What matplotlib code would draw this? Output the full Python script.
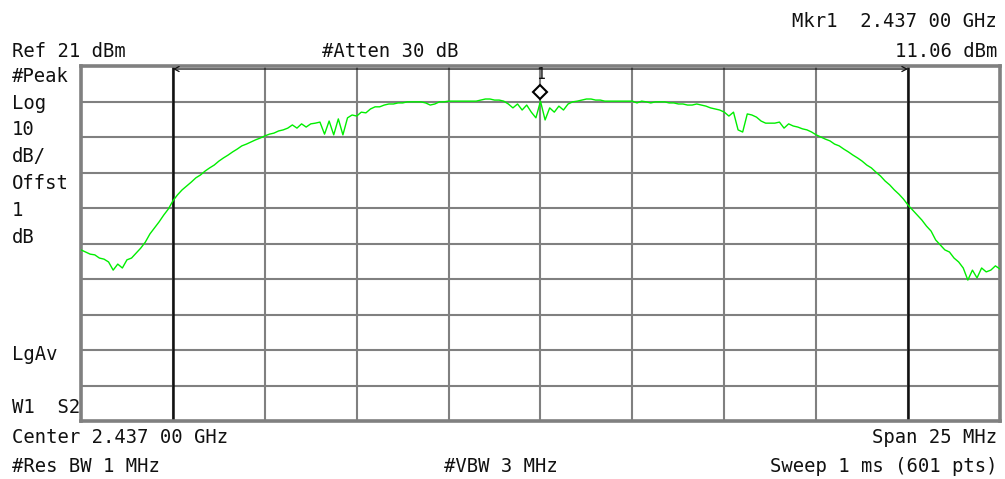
import matplotlib
matplotlib.use("Agg")
import matplotlib.pyplot as plt
import matplotlib.transforms as mtransforms
import numpy as np

# Analyzer settings
center_mhz = 2437.0
span_mhz = 25.0
ref_dbm = 21.0
db_per_div = 10.0
line_left_mhz = 2427.0
line_right_mhz = 2447.0
marker_mhz = 2437.0
marker_dbm = 11.06

# Trace levels (dBm), 201 points evenly spaced across the span
trace_dbm = [
    -30.8, -31.4, -32.0, -32.2, -33.1, -33.4, -34.2, -36.5, -34.8, -35.9,
    -33.6, -33.1, -31.7, -30.3, -28.6, -26.3, -24.6, -22.9, -21.0, -19.3,
    -17.0, -15.3, -13.9, -12.8, -11.7, -10.5, -9.7, -8.6, -7.7, -6.9,
    -5.8, -4.9, -4.1, -3.2, -2.4, -1.5, -1.0, -0.4, 0.2, 0.7,
    1.3, 1.8, 2.1, 2.7, 3.0, 3.5, 4.4, 3.5, 4.7, 3.8,
    4.7, 4.9, 5.2, 1.8, 5.5, 1.6, 6.1, 1.6, 6.4, 7.2,
    6.9, 8.0, 7.8, 8.9, 9.5, 9.5, 10.0, 10.3, 10.3, 10.6,
    10.6, 10.9, 10.9, 10.9, 10.9, 10.6, 10.0, 10.3, 10.9, 10.9,
    11.1, 11.1, 11.1, 11.1, 11.1, 11.1, 11.1, 11.4, 11.7, 11.7,
    11.4, 11.4, 11.1, 10.3, 9.2, 10.3, 8.6, 10.0, 8.0, 6.4,
    11.06, 5.8, 9.2, 8.0, 9.7, 8.6, 10.3, 10.9, 11.1, 11.4,
    11.7, 11.7, 11.4, 11.4, 11.1, 11.1, 11.1, 11.1, 11.1, 11.1,
    11.1, 10.6, 11.1, 10.9, 10.6, 10.9, 10.9, 10.9, 10.6, 10.6,
    10.3, 10.3, 10.0, 10.0, 10.3, 10.0, 9.7, 9.2, 8.9, 8.6,
    8.0, 6.9, 8.0, 3.0, 2.4, 7.5, 7.2, 6.6, 5.5, 4.9,
    4.9, 4.9, 5.2, 3.5, 4.7, 4.1, 3.8, 3.3, 3.0, 2.4,
    1.6, 1.0, 0.4, -0.1, -1.0, -1.5, -2.4, -3.2, -4.1, -4.9,
    -5.8, -6.9, -7.7, -8.9, -10.0, -11.4, -12.5, -13.9, -15.1, -16.5,
    -18.2, -19.6, -21.0, -22.4, -24.1, -25.5, -28.0, -29.4, -30.8, -31.4,
    -33.1, -34.2, -35.9, -39.3, -36.5, -38.7, -35.9, -37.0, -36.5, -35.3,
    -36.2,
]

f_start = center_mhz - span_mhz / 2
f_stop = center_mhz + span_mhz / 2
freqs = np.linspace(f_start, f_stop, len(trace_dbm))

W, H = 1005, 479
fig = plt.figure(figsize=(W / 100, H / 100), dpi=100)
fig.patch.set_facecolor("white")

# graticule box in pixels: x 81..1000, y 66..421
gl, gr, gt, gb = 81, 1000, 66, 421
ax = fig.add_axes([gl / W, 1 - gb / H, (gr - gl) / W, (gb - gt) / H])
ax.set_xlim(f_start, f_stop)
ax.set_ylim(ref_dbm - 10 * db_per_div, ref_dbm)
ax.set_xticks(np.linspace(f_start, f_stop, 11))
ax.set_yticks(np.linspace(ref_dbm - 10 * db_per_div, ref_dbm, 11))
ax.tick_params(length=0, labelbottom=False, labelleft=False)
ax.grid(True, color="#808080", lw=1.5)
ax.set_axisbelow(True)
for s in ax.spines.values():
    s.set_color("#808080")
    s.set_linewidth(2.6)

# display lines with span arrow along the top
ax.axvline(line_left_mhz, color="#111111", lw=1.8, zorder=2)
ax.axvline(line_right_mhz, color="#111111", lw=1.8, zorder=2)
arrow_y = ref_dbm - 0.85
ax.annotate("", xy=(line_left_mhz, arrow_y), xytext=(line_right_mhz, arrow_y),
            arrowprops=dict(arrowstyle="<->,head_length=0.35,head_width=0.18",
                            color="#111111", lw=0.9, shrinkA=0, shrinkB=0),
            zorder=3)

ax.plot(freqs, trace_dbm, color="#00ee00", lw=1.0, zorder=4)

# marker 1 diamond sits just above the trace point
mk_tr = mtransforms.offset_copy(ax.transData, fig=fig, x=0, y=6.5, units="points")
ax.plot([marker_mhz], [marker_dbm], marker="D", ms=7, mfc="white", mec="black",
        mew=1.5, transform=mk_tr, zorder=5, clip_on=False)
lbl_tr = mtransforms.offset_copy(ax.transData, fig=fig, x=0, y=16, units="points")
ax.text(marker_mhz, marker_dbm, "1", transform=lbl_tr, ha="center", va="baseline",
        fontsize=10.5, family="DejaVu Sans Mono", color="#111111", zorder=5)

font = dict(family="DejaVu Sans Mono", fontsize=13.6, color="#111111")


def put(x, y_base, s, ha="left"):
    fig.text(x / W, 1 - y_base / H, s, ha=ha, va="baseline", **font)


put(997, 27, "Mkr1  2.437 00 GHz", ha="right")
put(12, 57, "Ref 21 dBm")
put(322, 57, "#Atten 30 dB")
put(997, 57, "11.06 dBm", ha="right")

left_col = [("#Peak", 82), ("Log", 109), ("10", 135), ("dB/", 162),
            ("Offst", 189), ("1", 216), ("dB", 243), ("LgAv", 360), ("W1  S2", 413)]
for s, yb in left_col:
    put(12, yb, s)

put(12, 443, "Center 2.437 00 GHz")
put(997, 443, "Span 25 MHz", ha="right")
put(12, 472, "#Res BW 1 MHz")
put(444, 472, "#VBW 3 MHz")
put(997, 472, "Sweep 1 ms (601 pts)", ha="right")

fig.savefig("out.png", dpi=100, facecolor="white")
